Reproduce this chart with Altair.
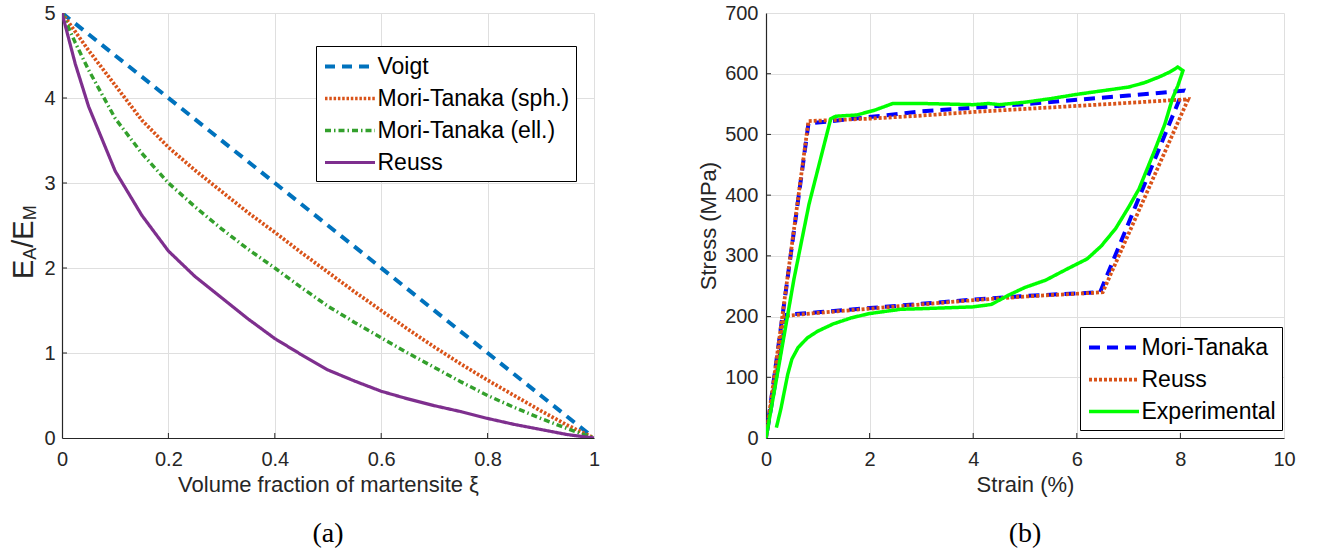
import altair as alt
import pandas as pd

FONT = "Liberation Sans"
AXC = "#262626"
GRID = "#dfdfdf"

# ---------------- panel (a) data ----------------
models = ["Voigt", "Mori-Tanaka (sph.)", "Mori-Tanaka (ell.)", "Reuss"]

xi_voigt = [0.0, 1.0]
voigt = [5.0, 0.0]

xi = [0, 0.025, 0.05, 0.1, 0.15, 0.2, 0.25, 0.3, 0.35, 0.4, 0.45, 0.5,
      0.55, 0.6, 0.65, 0.7, 0.75, 0.8, 0.85, 0.9, 0.95, 1.0]
mt_sph = [5.0, 4.78, 4.56, 4.15, 3.74, 3.42, 3.15, 2.9, 2.65, 2.42, 2.18, 1.95,
          1.72, 1.5, 1.28, 1.07, 0.87, 0.68, 0.5, 0.32, 0.15, 0.0]
mt_ell = [5.0, 4.65, 4.33, 3.76, 3.35, 3.0, 2.72, 2.46, 2.22, 2.0, 1.77, 1.55,
          1.36, 1.18, 1.0, 0.83, 0.66, 0.5, 0.36, 0.23, 0.11, 0.0]
reuss_a = [5.0, 4.4, 3.9, 3.14, 2.62, 2.2, 1.9, 1.65, 1.4, 1.17, 0.98, 0.8,
           0.67, 0.55, 0.46, 0.38, 0.31, 0.23, 0.16, 0.1, 0.04, 0.0]

colors_a = ["#0072BD", "#D95319", "#33A02C", "#7E2F8E"]
dashes_a = [[10, 7], [2.5, 1.8], [6, 3, 1.5, 3], [1, 0]]
widths_a = [4, 3.2, 1.0, 3]

xticks_a = [0, 0.2, 0.4, 0.6, 0.8, 1.0]
yticks_a = [0, 1, 2, 3, 4, 5]

# ---------------- panel (b) data ----------------
series_b = ["Mori-Tanaka", "Reuss", "Experimental"]

strain_mt = [0, 0.82, 1.5, 3, 4, 5, 6, 7, 8.05, 6.45, 5, 4, 3, 2, 1, 0.4, 0]
stress_mt = [0, 518, 524, 538, 544, 550, 557, 564, 572, 240, 234, 228, 221, 214, 207, 203, 0]

strain_re = [0, 0.82, 2, 3, 4, 5, 6, 7, 8.15, 6.5, 5, 4, 3, 2, 1, 0.35, 0]
stress_re = [0, 522, 526, 531, 537, 542, 547, 552, 558, 240, 233, 227, 220, 213, 206, 201, 0]

strain_ex = [0, 0.25, 0.54, 0.83, 1.25, 1.35, 1.75, 2.1, 2.45, 3.0, 3.5, 4.0, 4.3, 4.5,
             5.0, 5.5, 6.0, 6.5, 7.0, 7.3, 7.6, 7.8, 7.95, 8.05, 7.95, 7.85, 7.7, 7.5,
             7.2, 7.0, 6.75, 6.47, 6.2, 5.85, 5.4, 5.0, 4.7, 4.35, 4.0, 3.0, 2.6, 2.0,
             1.65, 1.3, 1.0, 0.8, 0.62, 0.5, 0.42, 0.35, 0.29, 0.2]
stress_ex = [0, 120, 262, 385, 526, 530, 532, 540, 551, 551, 550, 549, 551, 549,
             553, 559, 566, 572, 578, 585, 595, 603, 611, 605, 580, 560, 517, 473,
             410, 380, 345, 316, 295, 280, 260, 248, 236, 220, 216, 213, 212, 205,
             198, 188, 176, 165, 149, 130, 105, 75, 49, 17]

colors_b = ["#0000FF", "#D95319", "#00FF00"]
dashes_b = [[11, 7], [3, 2], [1, 0]]
widths_b = [4, 3.5, 3]

xticks_b = [0, 2, 4, 6, 8, 10]
yticks_b = [0, 100, 200, 300, 400, 500, 600, 700]

# ---------------- tables ----------------
rows = []
for name, xs, ys in [("Voigt", xi_voigt, voigt), ("Mori-Tanaka (sph.)", xi, mt_sph),
                     ("Mori-Tanaka (ell.)", xi, mt_ell), ("Reuss", xi, reuss_a)]:
    for i, (a, b) in enumerate(zip(xs, ys)):
        rows.append({"model": name, "x": a, "y": b, "i": i})
df_a = pd.DataFrame(rows)

rows = []
for name, xs, ys in [("Mori-Tanaka", strain_mt, stress_mt), ("Reuss", strain_re, stress_re),
                     ("Experimental", strain_ex, stress_ex)]:
    for i, (a, b) in enumerate(zip(xs, ys)):
        rows.append({"series": name, "x": a, "y": b, "i": i})
df_b = pd.DataFrame(rows)

W_A, W_B, H = 532, 518, 425
TICKFS = 20
TITLEFS = 22


def axis_x(title, values, fmt):
    return alt.Axis(title=title, values=values, format=fmt, grid=True, gridColor=GRID,
                    gridWidth=1, ticks=False, tickSize=0, domainColor=AXC, domainWidth=1.2,
                    labelFont=FONT, labelFontSize=TICKFS, labelColor=AXC, labelPadding=11,
                    labelFlush=False,
                    titleFont=FONT, titleFontSize=TITLEFS, titleColor=AXC, titleFontWeight="normal",
                    titlePadding=5)


def axis_y(title, values, pad, fmt):
    kw = dict(values=values, format=fmt, grid=True, gridColor=GRID,
              gridWidth=1, ticks=False, tickSize=0, domainColor=AXC, domainWidth=1.2,
              labelFont=FONT, labelFontSize=TICKFS, labelColor=AXC, labelPadding=pad,
              labelFlush=False,
              titleFont=FONT, titleFontSize=TITLEFS, titleColor=AXC, titleFontWeight="normal",
              titlePadding=4)
    if title is None:
        return alt.Axis(title=None, **kw)
    return alt.Axis(title=title, **kw)


def legend(x, y):
    return alt.Legend(title=None, orient="none", legendX=x, legendY=y, direction="vertical",
                      strokeColor="black", fillColor="white", padding=6, cornerRadius=0,
                      labelFont=FONT, labelFontSize=23, labelColor="black", labelLimit=0,
                      symbolType="M-2,0L2,0", symbolSize=625, symbolOffset=13.5,
                      labelOffset=13, rowPadding=5)


# ---------------- panel (a) ----------------
sx_a = alt.Scale(domain=[0, 1], nice=False)
sy_a = alt.Scale(domain=[0, 5], nice=False)
leg_a = legend(254, 33)

lines_a = alt.Chart(df_a).mark_line(clip=True).encode(
    x=alt.X("x:Q", scale=sx_a, axis=axis_x("Volume fraction of martensite ξ", xticks_a, ".1~f")),
    y=alt.Y("y:Q", scale=sy_a, axis=axis_y(None, yticks_a, 7, "d")),
    color=alt.Color("model:N", scale=alt.Scale(domain=models, range=colors_a), legend=leg_a),
    strokeDash=alt.StrokeDash("model:N", scale=alt.Scale(domain=models, range=dashes_a), legend=leg_a),
    strokeWidth=alt.StrokeWidth("model:N", scale=alt.Scale(domain=models, range=widths_a), legend=leg_a),
    order="i:Q",
)

xt_a = alt.Chart(pd.DataFrame({"v": xticks_a[1:-1]})).mark_rule(color=AXC, strokeWidth=1).encode(
    x=alt.X("v:Q", scale=sx_a), y=alt.value(H), y2=alt.value(H - 5))
yt_a = alt.Chart(pd.DataFrame({"v": yticks_a[1:-1]})).mark_rule(color=AXC, strokeWidth=1).encode(
    y=alt.Y("v:Q", scale=sy_a), x=alt.value(0), x2=alt.value(5))

# y-axis title with subscripts: E_A/E_M
yl_parts = [("E", 29, -29, 266), ("A", 18, -26, 246.7), ("/E", 29, -29, 234.7), ("M", 18, -26, 207.3)]
yl_layers = []
for txt, fs, px, py in yl_parts:
    yl_layers.append(
        alt.Chart(pd.DataFrame({"t": [txt]})).mark_text(
            angle=270, align="left", baseline="alphabetic", font=FONT, fontSize=fs, color=AXC
        ).encode(text="t:N", x=alt.value(px), y=alt.value(py))
    )

panel_a = alt.layer(lines_a, xt_a, yt_a, *yl_layers).properties(
    width=W_A, height=H,
    title=alt.TitleParams("(a)", orient="bottom", anchor="middle", frame="group",
                          font="Liberation Serif", fontSize=28, fontWeight="normal",
                          color="black", offset=25),
)

# ---------------- panel (b) ----------------
sx_b = alt.Scale(domain=[0, 10], nice=False)
sy_b = alt.Scale(domain=[0, 700], nice=False)
leg_b = legend(314, 314)

lines_b = alt.Chart(df_b).mark_line(clip=True).encode(
    x=alt.X("x:Q", scale=sx_b, axis=axis_x("Strain (%)", xticks_b, "d")),
    y=alt.Y("y:Q", scale=sy_b, axis=axis_y("Stress (MPa)", yticks_b, 8, "d")),
    color=alt.Color("series:N", scale=alt.Scale(domain=series_b, range=colors_b), legend=leg_b),
    strokeDash=alt.StrokeDash("series:N", scale=alt.Scale(domain=series_b, range=dashes_b), legend=leg_b),
    strokeWidth=alt.StrokeWidth("series:N", scale=alt.Scale(domain=series_b, range=widths_b), legend=leg_b),
    order="i:Q",
)

xt_b = alt.Chart(pd.DataFrame({"v": xticks_b[1:-1]})).mark_rule(color=AXC, strokeWidth=1).encode(
    x=alt.X("v:Q", scale=sx_b), y=alt.value(H), y2=alt.value(H - 5))
yt_b = alt.Chart(pd.DataFrame({"v": yticks_b[1:-1]})).mark_rule(color=AXC, strokeWidth=1).encode(
    y=alt.Y("v:Q", scale=sy_b), x=alt.value(0), x2=alt.value(5))

panel_b = alt.layer(lines_b, xt_b, yt_b).properties(
    width=W_B, height=H,
    title=alt.TitleParams("(b)", orient="bottom", anchor="middle", frame="group",
                          font="Liberation Serif", fontSize=28, fontWeight="normal",
                          color="black", offset=25),
)

chart = alt.hconcat(panel_a, panel_b, spacing=97).resolve_scale(
    color="independent", strokeDash="independent", strokeWidth="independent",
    x="independent", y="independent",
).resolve_legend(
    color="independent", strokeDash="independent", strokeWidth="independent",
).properties(
    padding={"left": 10, "top": 3, "right": 0, "bottom": 0},
    background="white",
).configure_view(stroke=None)

chart.save("out.html", embed_options={"renderer": "svg", "actions": False})
